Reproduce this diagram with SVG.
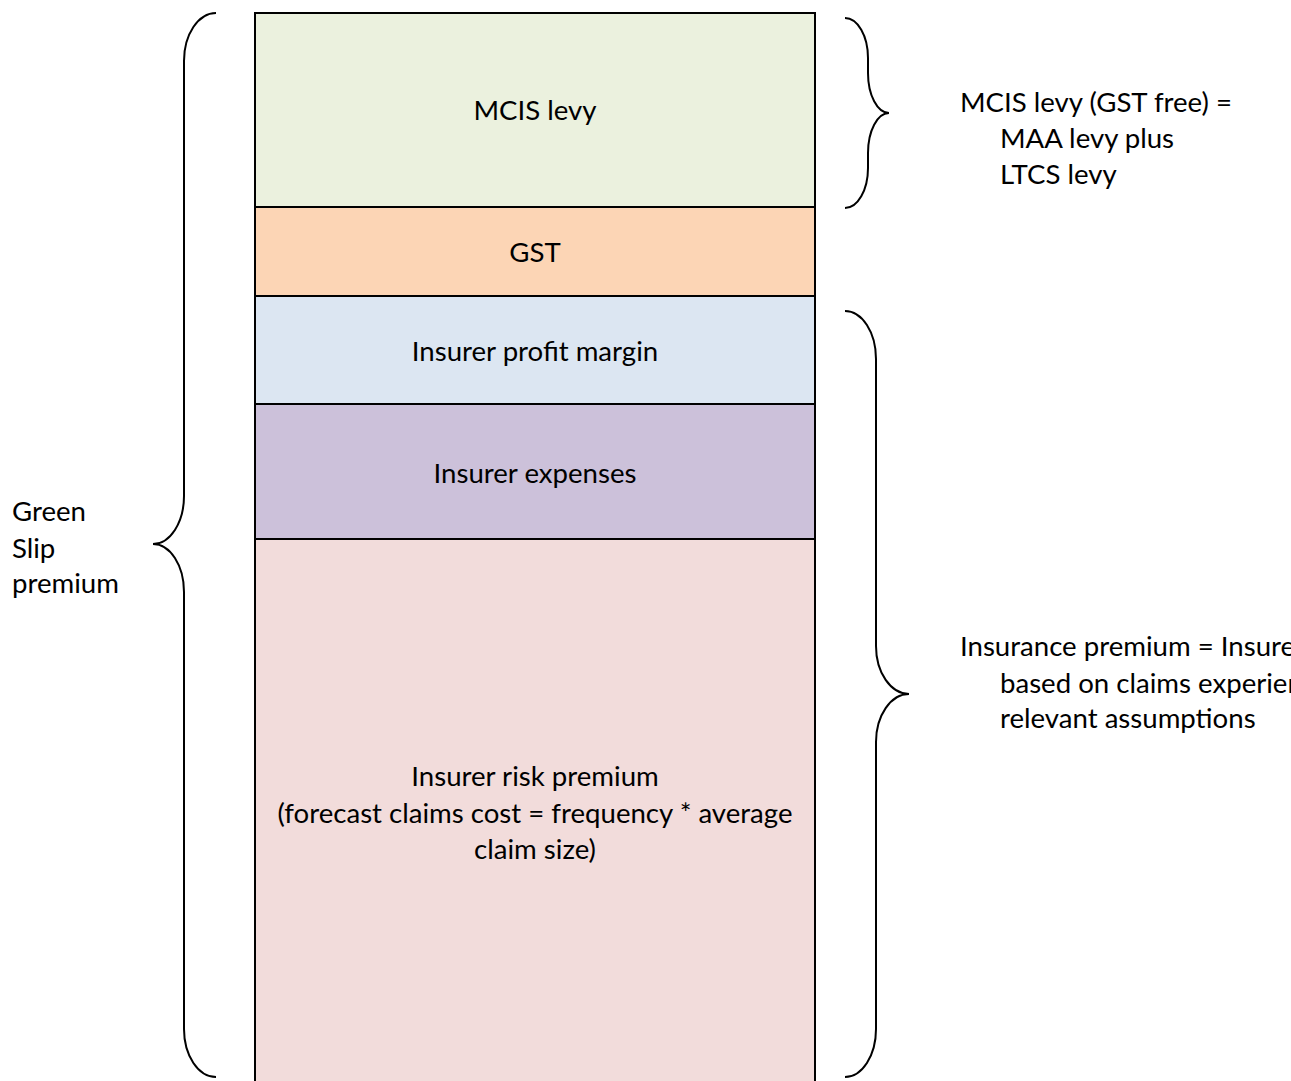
<svg xmlns="http://www.w3.org/2000/svg" width="1291" height="1081" viewBox="0 0 1291 1081">
<style>
.seg{stroke:#000;stroke-width:2}
.t{font-family:Lato,"Open Sans","Liberation Sans",sans-serif;font-size:27.6px;fill:#000}
.c{text-anchor:middle}
.br{fill:none;stroke:#000;stroke-width:2}
</style>
<rect width="1291" height="1081" fill="#fff"/>
<g id="mcis-levy"><rect class="seg" x="255" y="13" width="560" height="194" fill="#ebf1de"/><text class="t c" x="535" y="120">MCIS levy</text></g>
<g id="gst"><rect class="seg" x="255" y="207" width="560" height="89" fill="#fcd5b5"/><text class="t c" x="535" y="262">GST</text></g>
<g id="profit-margin"><rect class="seg" x="255" y="296" width="560" height="108" fill="#dce6f2"/><text class="t c" x="535" y="361">Insurer profit margin</text></g>
<g id="expenses"><rect class="seg" x="255" y="404" width="560" height="135" fill="#ccc1da"/><text class="t c" x="535" y="483">Insurer expenses</text></g>
<g id="risk-premium"><rect class="seg" x="255" y="539" width="560" height="550" fill="#f2dcdb"/><text class="t c" x="535" y="786">Insurer risk premium</text><text class="t c" x="535" y="823">(forecast claims cost = frequency * average</text><text class="t c" x="535" y="859">claim size)</text></g>
<g id="connectors">
<path class="br" d="M216,13 A32,48 0 0 0 184,61 L184,496 A31,48 0 0 1 153,544 A31,48 0 0 1 184,592 L184,1029 A32,48 0 0 0 216,1077"/>
<path class="br" d="M845,18 A23,40 0 0 1 868,58 L868,73 A21,40 0 0 0 889,113 A21,40 0 0 0 868,153 L868,168 A23,40 0 0 1 845,208"/>
<path class="br" d="M845,311 A31,48 0 0 1 876,359 L876,646 A33,48 0 0 0 909,694 A33,48 0 0 0 876,742 L876,1029 A31,48 0 0 1 845,1077"/>
</g>
<g id="label-green-slip"><text class="t" x="12" y="521">Green</text><text class="t" x="12" y="558">Slip</text><text class="t" x="12" y="593">premium</text></g>
<g id="label-mcis"><text class="t" x="960" y="112">MCIS levy (GST free) =</text><text class="t" x="1000" y="148">MAA levy plus</text><text class="t" x="1000" y="184">LTCS levy</text></g>
<g id="label-insurance"><text class="t" x="960" y="656">Insurance premium = Insure</text><text class="t" x="1000" y="693">based on claims experien</text><text class="t" x="1000" y="728">relevant assumptions</text></g>
</svg>
